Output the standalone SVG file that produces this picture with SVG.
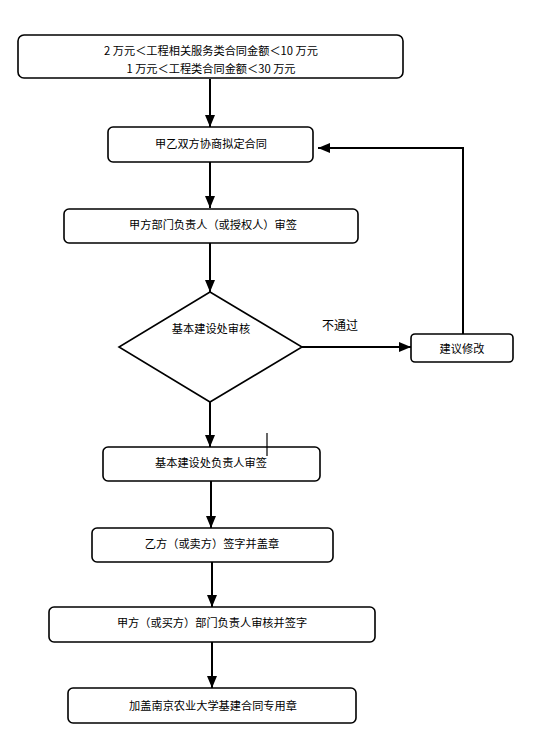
<svg xmlns="http://www.w3.org/2000/svg" width="533" height="742" viewBox="0 0 533 742">
<style>
.box{fill:#fff;stroke:#000;stroke-width:1.6}
.t{font-family:"Noto Sans CJK SC","Noto Sans",sans-serif;font-size:11.2px;fill:#000;text-anchor:middle;dominant-baseline:central}
.c{fill:none;stroke:#000;stroke-width:2}
</style>
<defs>
<marker id="ah" markerWidth="12" markerHeight="10" refX="12" refY="5" orient="auto" markerUnits="userSpaceOnUse">
<path d="M0,0 L12,5 L0,10 Z" fill="#000"/>
</marker>
</defs>
<rect width="533" height="742" fill="#fff"/>
<g id="connectors">
<line class="c" x1="210" y1="79" x2="210" y2="127" marker-end="url(#ah)"/>
<line class="c" x1="210" y1="162" x2="210" y2="208" marker-end="url(#ah)"/>
<line class="c" x1="210" y1="243" x2="210" y2="292" marker-end="url(#ah)"/>
<line class="c" x1="302" y1="347" x2="411" y2="347" marker-end="url(#ah)"/>
<polyline class="c" points="463,334 463,148 318,148" marker-end="url(#ah)"/>
<line class="c" x1="210" y1="402" x2="210" y2="447" marker-end="url(#ah)"/>
<line class="c" x1="211" y1="481" x2="211" y2="528" marker-end="url(#ah)"/>
<line class="c" x1="212" y1="562" x2="212" y2="607" marker-end="url(#ah)"/>
<line class="c" x1="212" y1="642" x2="212" y2="688" marker-end="url(#ah)"/>
<text class="t" x="340" y="324" style="font-size:12px">不通过</text>
</g>
<g id="n1">
<rect class="box" x="18" y="35" width="385" height="43" rx="6"/>
<text class="t" x="211" y="50">2 万元＜工程相关服务类合同金额＜10 万元</text>
<text class="t" x="211" y="68">1 万元＜工程类合同金额＜30 万元</text>
</g>
<g id="n2">
<rect class="box" x="108" y="127" width="205" height="35" rx="5"/>
<text class="t" x="211" y="143" textLength="112">甲乙双方协商拟定合同</text>
</g>
<g id="n3">
<rect class="box" x="64" y="209" width="294" height="34" rx="5"/>
<text class="t" x="213" y="224">甲方部门负责人（或授权人）审签</text>
</g>
<g id="n4">
<polygon class="box" points="210,292 302,347 210,402 119,347"/>
<text class="t" x="211" y="328">基本建设处审核</text>
</g>
<g id="n5">
<rect class="box" x="411" y="334" width="102" height="28" rx="4"/>
<text class="t" x="462" y="348">建议修改</text>
</g>
<g id="n6">
<rect class="box" x="103" y="447" width="217" height="34" rx="5"/>
<text class="t" x="211" y="462">基本建设处负责人审签</text>
<line x1="267" y1="433" x2="267" y2="456" stroke="#000" stroke-width="1.2"/>
</g>
<g id="n7">
<rect class="box" x="92" y="528" width="241" height="34" rx="5"/>
<text class="t" x="212" y="543">乙方（或卖方）签字并盖章</text>
</g>
<g id="n8">
<rect class="box" x="49" y="607" width="326" height="35" rx="5"/>
<text class="t" x="212" y="622">甲方（或买方）部门负责人审核并签字</text>
</g>
<g id="n9">
<rect class="box" x="68" y="688" width="288" height="35" rx="5"/>
<text class="t" x="213" y="705">加盖南京农业大学基建合同专用章</text>
</g>
</svg>
